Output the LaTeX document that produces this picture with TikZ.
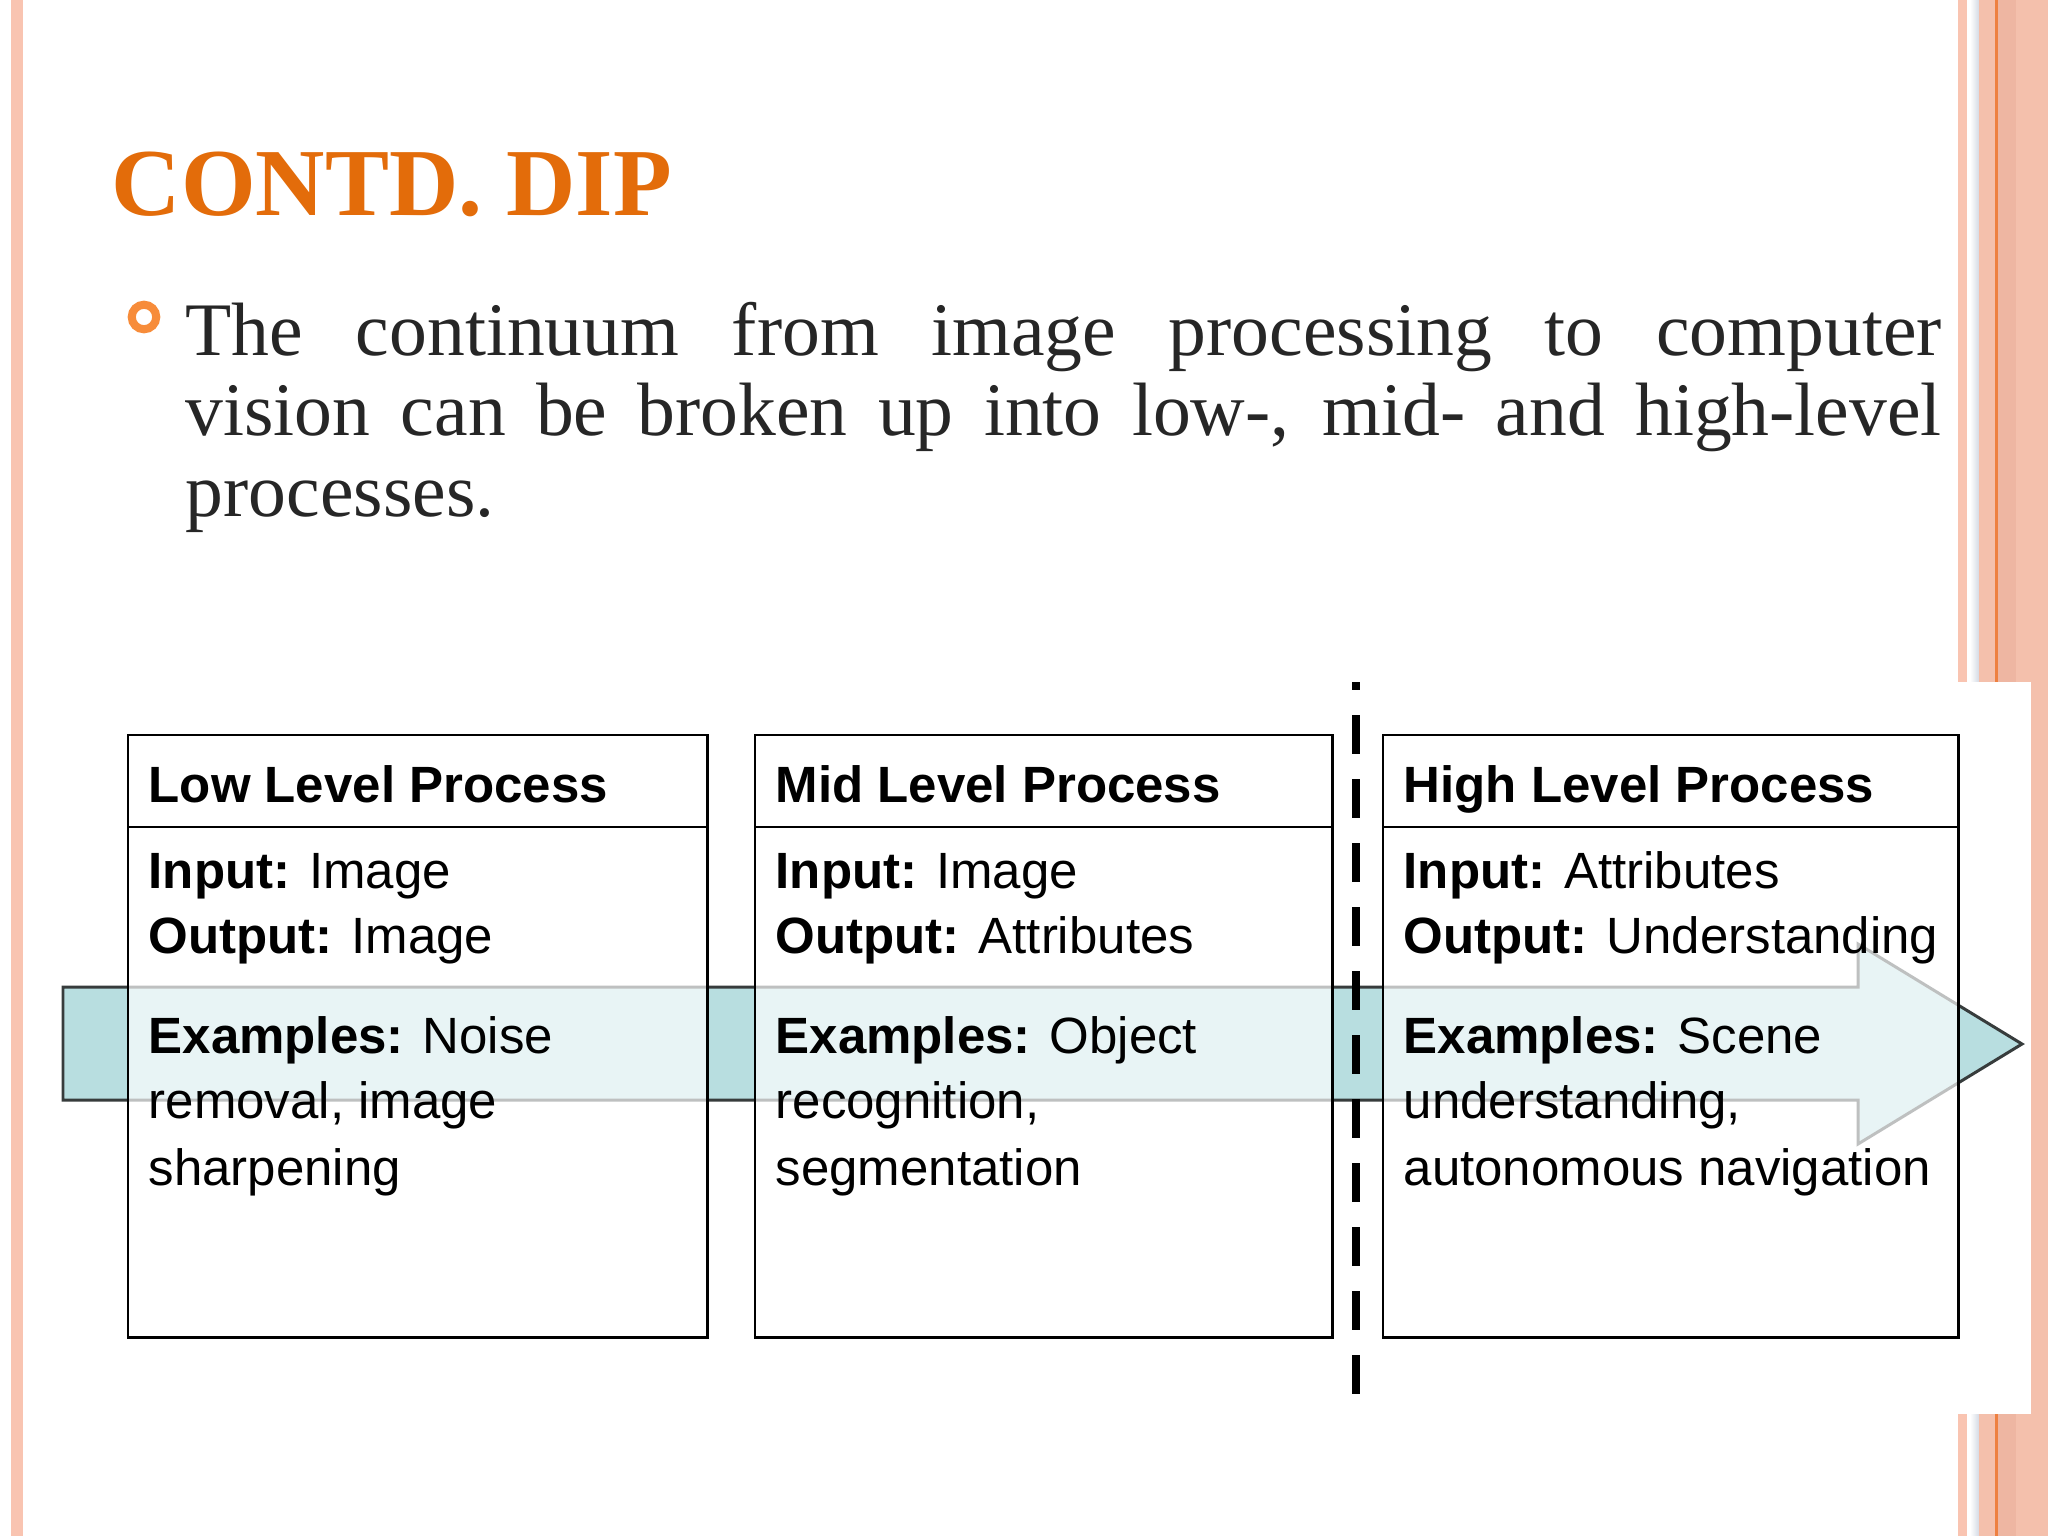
\documentclass[tikz,border=0pt]{standalone}
\usepackage{fontspec}
\setmainfont{Liberation Serif}
\newfontfamily\diagfont{Liberation Sans}
\usetikzlibrary{calc}
\definecolor{titleorange}{RGB}{227,108,10}
\definecolor{bulletorange}{RGB}{247,140,58}
\definecolor{bodygray}{RGB}{38,38,38}
\definecolor{pinkA}{RGB}{249,196,177}
\definecolor{pinkB}{RGB}{244,192,172}
\definecolor{pinkC}{RGB}{238,182,162}
\definecolor{stripeorange}{RGB}{238,128,64}
\definecolor{shadowgray}{RGB}{212,218,228}
\definecolor{arrowteal}{RGB}{184,222,224}
\definecolor{arrowline}{RGB}{55,60,60}
\tikzset{
  bodytext/.style={anchor=base west, inner sep=0pt, text=bodygray, font=\fontsize{21.5}{26}\selectfont},
  dtext/.style={anchor=base west, inner sep=0pt, text=black, font=\diagfont\fontsize{14.5}{17}\selectfont},
  procbox/.style={draw=black, line width=0.8pt, fill=white, fill opacity=0.68, anchor=north west,
    minimum height=6.02cm, inner sep=0pt, outer sep=0pt},
  boxline/.style={draw=black, line width=0.8pt},
  bigarrow/.style={fill=arrowteal, draw=arrowline, line width=0.85pt, line join=miter},
  divider/.style={line width=2.1pt, dash pattern=on 11.1pt off 7.1pt, dash phase=8.8pt}
}
\begin{document}
\begin{tikzpicture}[x=0.01cm,y=-0.01cm]
\useasboundingbox (0,0) rectangle (2048,1536);
\fill[white] (0,0) rectangle (2048,1536);
% left stripe
\fill[pinkA] (11,0) rectangle (23,1536);
% right decoration
\fill[pinkA] (1958,0) rectangle (1967,1536);
\shade[left color=white, right color=shadowgray] (1970,0) rectangle (1979,1536);
\fill[pinkB] (1979,0) rectangle (2048,1536);
\fill[pinkC] (1997,0) rectangle (2016,1536);
\fill[stripeorange] (1995,0) rectangle (1997.5,1536);
% white panel behind the diagram
\fill[white] (40,682) rectangle (2031,1414);

% title
\node[anchor=base west, inner sep=0pt, text=titleorange, font=\fontsize{27.3}{33}\selectfont\bfseries] (title) at (111,215) {CONTD. DIP};

% bullet
\node[circle, draw=bulletorange, line width=2.3pt, minimum size=0.245cm, inner sep=0pt] (bullet) at (144,317) {};
\node[bodytext] (line1) at (185,355) {\makebox[17.55cm][s]{The continuum from image processing to computer}};
\node[bodytext] (line2) at (185,435) {\makebox[17.55cm][s]{vision can be broken up into low-, mid- and high-level}};
\node[bodytext] (line3) at (185,516) {processes.};

% arrow
\filldraw[bigarrow] (63,987) -- (1858,987) -- (1858,944) -- (2022,1044) -- (1858,1144) -- (1858,1100) -- (63,1100) -- cycle;

% boxes
\node[procbox, minimum width=5.79cm] (b1) at (128,735) {};
\node[procbox, minimum width=5.77cm] (b2) at (755,735) {};
\node[procbox, minimum width=5.75cm] (b3) at (1383,735) {};
\foreach \b in {b1,b2,b3}{
  \draw[boxline] ($(\b.north west)+(0,92)$) -- ($(\b.north east)+(0,92)$);
}

% dashed divider
\coordinate (dtop) at (1356,682);
\coordinate (dbot) at (1356,1395);
\draw[divider] (dtop) -- (dbot);

% box 1 text
\node[dtext] (h1) at (148,802) {\textbf{Low Level Process}};
\node[dtext] (i1) at (148,888) {\textbf{Input:} Image};
\node[dtext] (o1) at (148,953) {\textbf{Output:} Image};
\node[dtext] (e1) at (148,1053) {\textbf{Examples:} Noise};
\node[dtext] (e1b) at (148,1118) {removal, image};
\node[dtext] (e1c) at (148,1185) {sharpening};

% box 2 text
\node[dtext] (h2) at (775,802) {\textbf{Mid Level Process}};
\node[dtext] (i2) at (775,888) {\textbf{Input:} Image};
\node[dtext] (o2) at (775,953) {\textbf{Output:} Attributes};
\node[dtext] (e2) at (775,1053) {\textbf{Examples:} Object};
\node[dtext] (e2b) at (775,1118) {recognition,};
\node[dtext] (e2c) at (775,1185) {segmentation};

% box 3 text
\node[dtext] (h3) at (1403,802) {\textbf{High Level Process}};
\node[dtext] (i3) at (1403,888) {\textbf{Input:} Attributes};
\node[dtext] (o3) at (1403,953) {\textbf{Output:} Understanding};
\node[dtext] (e3) at (1403,1053) {\textbf{Examples:} Scene};
\node[dtext] (e3b) at (1403,1118) {understanding,};
\node[dtext] (e3c) at (1403,1185) {autonomous navigation};
\end{tikzpicture}
\end{document}
